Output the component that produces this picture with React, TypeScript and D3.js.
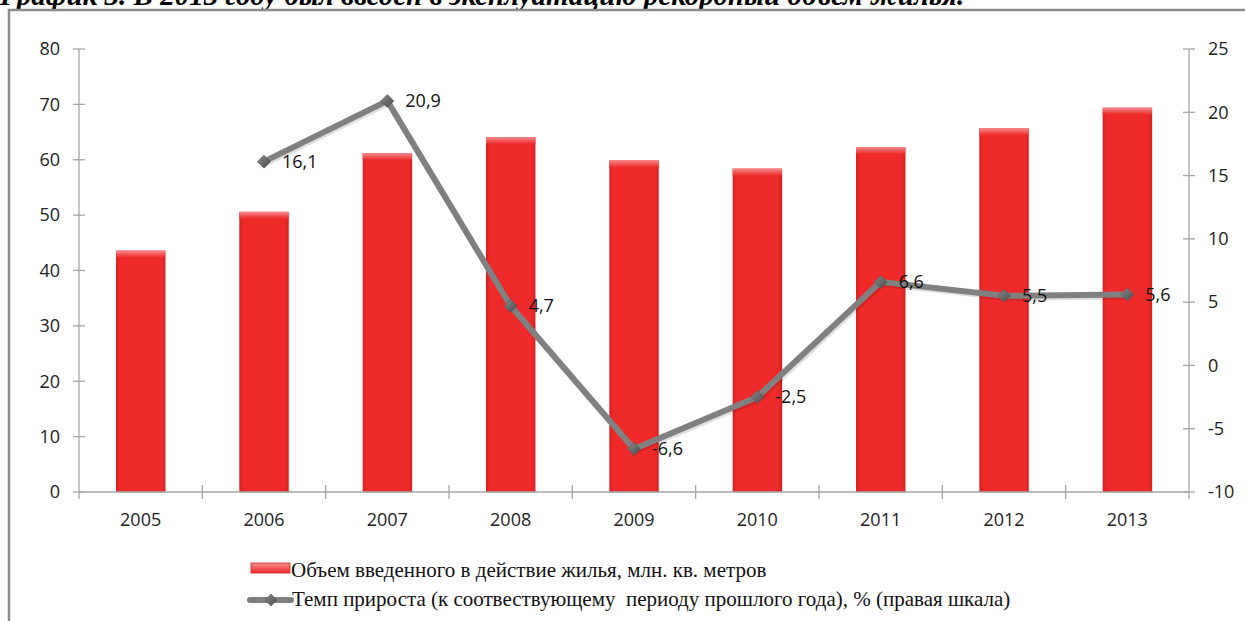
import React from "react";
import * as d3 from "d3";

const years = ["2005", "2006", "2007", "2008", "2009", "2010", "2011", "2012", "2013"];
const volume = [43.6, 50.6, 61.2, 64.1, 59.9, 58.4, 62.3, 65.7, 69.4];
const growthYears = ["2006", "2007", "2008", "2009", "2010", "2011", "2012", "2013"];
const growth = [16.1, 20.9, 4.7, -6.6, -2.5, 6.6, 5.5, 5.6];
const leftTicks = [0, 10, 20, 30, 40, 50, 60, 70, 80];
const rightTicks = [-10, -5, 0, 5, 10, 15, 20, 25];

const title = "График 3. В 2013 году был введен в эксплуатацию рекордный объем жилья.";
const legendBars = "Объем введенного в действие жилья, млн. кв. метров";
const legendLine = "Темп прироста (к соотвествующему  периоду прошлого года), % (правая шкала)";

const W = 1245;
const H = 621;
const left = 79;
const right = 1189;
const top = 49;
const bottom = 492;

const axisColor = "#a6a6a6";
const labelFont = "'Open Sans', sans-serif";
const fmt = (v: number) => String(v).replace(".", ",");

export default function App() {
  const x = d3.scaleBand<string>().domain(years).range([left, right]).paddingInner(0.6).paddingOuter(0.3);
  const xb = d3.scaleBand<string>().domain(years).range([left, right]);
  const yL = d3.scaleLinear().domain([0, 80]).range([bottom, top]);
  const yR = d3.scaleLinear().domain([-10, 25]).range([bottom, top]);

  const pts = growthYears.map((yr, i) => [xb(yr)! + xb.bandwidth() / 2, yR(growth[i])] as [number, number]);
  const line = d3.line();

  const diamond = (cx: number, cy: number, r: number) =>
    `M${cx},${cy - r}L${cx + r},${cy}L${cx},${cy + r}L${cx - r},${cy}Z`;

  return (
    <svg width={W} height={H} style={{ position: "absolute", left: 0, top: 0, background: "#fff" }}>
      <defs>
        <linearGradient id="barG" x1="0" x2="1" y1="0" y2="0">
          <stop offset="0" stopColor="#d62020" />
          <stop offset="0.08" stopColor="#ef2a2a" />
          <stop offset="0.92" stopColor="#ef2a2a" />
          <stop offset="1" stopColor="#d62020" />
        </linearGradient>
        <linearGradient id="barTop" x1="0" x2="0" y1="0" y2="1">
          <stop offset="0" stopColor="#f68a8a" />
          <stop offset="1" stopColor="#ef2a2a" />
        </linearGradient>
        <linearGradient id="mark" x1="0" x2="1" y1="0" y2="1">
          <stop offset="0" stopColor="#8a8a8a" />
          <stop offset="1" stopColor="#4a4a4a" />
        </linearGradient>
      </defs>

      {/* title, cut off at the top as in the source */}
      <text x={0} y={5} fontFamily="'Liberation Serif', serif" fontWeight="bold" fontStyle="italic" fontSize={29} fill="#000">
        {title}
      </text>

      {/* frame */}
      <path d={`M9,${H}V10H${W}`} fill="none" stroke="#8c8c8c" strokeWidth={2.5} />

      {/* bars */}
      {years.map((yr, i) => {
        const bx = x(yr)!;
        const bw = x.bandwidth();
        const by = yL(volume[i]);
        return (
          <g key={yr}>
            <rect x={bx + 1} y={by + 1} width={bw} height={bottom - by} fill="#000" opacity={0.12} />
            <rect x={bx} y={by} width={bw} height={bottom - by} fill="url(#barG)" />
            <rect x={bx} y={by} width={bw} height={7} fill="url(#barTop)" />
          </g>
        );
      })}

      {/* left axis */}
      <line x1={left} x2={left} y1={top} y2={bottom + 7} stroke={axisColor} strokeWidth={1.3} />
      {leftTicks.map((t) => (
        <g key={t}>
          <line x1={left - 6} x2={left + 6} y1={yL(t)} y2={yL(t)} stroke={axisColor} strokeWidth={1.3} />
          <text x={60} y={yL(t)} dy="0.35em" textAnchor="end" fontFamily={labelFont} fontSize={18} fill="#222">
            {t}
          </text>
        </g>
      ))}

      {/* right axis */}
      <line x1={right} x2={right} y1={top} y2={bottom + 7} stroke={axisColor} strokeWidth={1.3} />
      {rightTicks.map((t) => (
        <g key={t}>
          <line x1={right - 6} x2={right + 6} y1={yR(t)} y2={yR(t)} stroke={axisColor} strokeWidth={1.3} />
          <text x={1208} y={yR(t)} dy="0.35em" textAnchor="start" fontFamily={labelFont} fontSize={18} fill="#222">
            {t}
          </text>
        </g>
      ))}

      {/* bottom axis */}
      <line x1={left} x2={right} y1={bottom} y2={bottom} stroke={axisColor} strokeWidth={1.3} />
      {years.map((yr, i) =>
        i > 0 ? (
          <line key={"t" + yr} x1={xb(yr)!} x2={xb(yr)!} y1={bottom - 7} y2={bottom + 7} stroke={axisColor} strokeWidth={1.3} />
        ) : null
      )}
      {years.map((yr) => (
        <text key={"l" + yr} x={xb(yr)! + xb.bandwidth() / 2} y={526} textAnchor="middle" fontFamily={labelFont} fontSize={18} fill="#222">
          {yr}
        </text>
      ))}

      {/* growth line */}
      <path d={line(pts)!} fill="none" stroke="#000" strokeOpacity={0.12} strokeWidth={6} transform="translate(1.5,2)" />
      <path d={line(pts)!} fill="none" stroke="#808080" strokeWidth={6} strokeLinejoin="round" />
      {pts.map(([px, py], i) => (
        <g key={"p" + i}>
          <path d={diamond(px, py, 6.5)} fill="url(#mark)" stroke="#555" strokeWidth={0.6} />
          <text x={px + 18} y={py} dy="0.35em" fontFamily={labelFont} fontSize={18} fill="#111">
            {fmt(growth[i])}
          </text>
        </g>
      ))}

      {/* legend */}
      <rect x={251} y={563} width={39} height={10} fill="url(#barTop)" stroke="#d62020" strokeWidth={0.8} />
      <text x={291} y={577} fontFamily="'Liberation Serif', serif" fontSize={21} fill="#111">
        {legendBars}
      </text>
      <line x1={250} x2={291} y1={600} y2={600} stroke="#808080" strokeWidth={6} strokeLinecap="round" />
      <path d={diamond(271, 600, 6)} fill="url(#mark)" stroke="#555" strokeWidth={0.6} />
      <text x={292} y={606} fontFamily="'Liberation Serif', serif" fontSize={21} fill="#111" style={{ whiteSpace: "pre" }}>
        {legendLine}
      </text>
    </svg>
  );
}
